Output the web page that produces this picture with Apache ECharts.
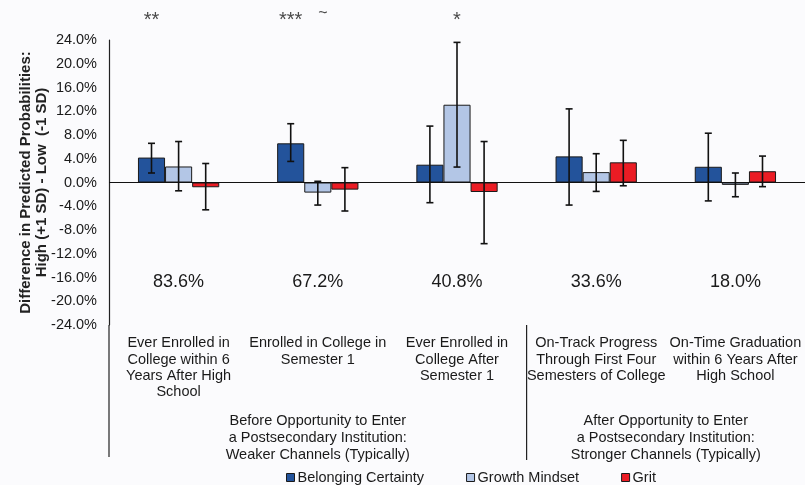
<!DOCTYPE html>
<html><head><meta charset="utf-8">
<script src="https://cdn.jsdelivr.net/npm/echarts@6/dist/echarts.min.js"></script>
<style>html,body{margin:0;padding:0;background:#fbfbfd}#c{width:805px;height:485px}</style>
</head><body><div id="c"></div>
<script>
const categories = [
  'Ever Enrolled in\nCollege within 6\nYears After High\nSchool',
  'Enrolled in College in\nSemester 1',
  'Ever Enrolled in\nCollege After\nSemester 1',
  'On-Track Progress\nThrough First Four\nSemesters of College',
  'On-Time Graduation\nwithin 6 Years After\nHigh School'
];
const seriesNames = ['Belonging Certainty', 'Growth Mindset', 'Grit'];
const belong = [4.2, 6.6, 3.0, 4.4, 2.65];
const growth = [2.7, -1.7, 13.1, 1.75, -0.4];
const grit = [-0.8, -1.2, -1.6, 3.4, 1.9];
const belongLo = [1.6, 3.55, -3.4, -3.8, -3.1];
const belongHi = [6.6, 9.9, 9.5, 12.4, 8.3];
const growthLo = [-1.4, -3.8, 2.6, -1.5, -2.4];
const growthHi = [6.9, 0.2, 23.6, 4.85, 1.6];
const gritLo = [-4.6, -4.8, -10.3, -0.55, -0.7];
const gritHi = [3.2, 2.5, 6.9, 7.1, 4.45];
const sigBelong = ['**', '***', '', '', ''];
const sigGrowth = ['', '~', '*', '', ''];
const sigGrit = ['', '', '', '', ''];
const rates = [83.6, 67.2, 40.8, 33.6, 18.0];
const rateLabelY = -16.7;
const groupLabels = [
  'Before Opportunity to Enter\na Postsecondary Institution:\nWeaker Channels (Typically)',
  'After Opportunity to Enter\na Postsecondary Institution:\nStronger Channels (Typically)'
];
const yTicks = {min: -24, max: 24, interval: 4};

const FONT = 'Liberation Sans, Arial, sans-serif';
const colors = ['#23539b', '#b3c6e6', '#eb1c24'];
const gapFrac = 0.416;

const chart = echarts.init(document.getElementById('c'), null, {renderer: 'canvas'});

function errSeries(si, lo, hi) {
  return {
    type: 'custom', name: seriesNames[si] + ' CI', silent: true, z: 5,
    encode: {x: 0, y: [1, 2]},
    data: lo.map((v, i) => [i, v, hi[i]]),
    renderItem: function (params, api) {
      const bw = api.size([1, 0])[0] * (1 - gapFrac) / 3;
      const cx = api.coord([api.value(0), 0])[0] + (si - 1) * bw;
      const yl = api.coord([api.value(0), api.value(1)])[1];
      const yh = api.coord([api.value(0), api.value(2)])[1];
      const cap = 3.5;
      const st = {stroke: '#111', lineWidth: 1.6};
      return {type: 'group', children: [
        {type: 'line', shape: {x1: cx, y1: yl, x2: cx, y2: yh}, style: st},
        {type: 'line', shape: {x1: cx - cap, y1: yl, x2: cx + cap, y2: yl}, style: st},
        {type: 'line', shape: {x1: cx - cap, y1: yh, x2: cx + cap, y2: yh}, style: st}
      ]};
    }
  };
}
function sigSeries(si, sig) {
  return {
    type: 'custom', name: seriesNames[si] + ' sig', silent: true, clip: false,
    encode: {x: 0, y: 1},
    data: sig.map((t, i) => [i, 0]),
    renderItem: function (params, api) {
      const bw = api.size([1, 0])[0] * (1 - gapFrac) / 3;
      const cx = api.coord([api.value(0), 0])[0] + (si - 1) * bw;
      const txt = sig[params.dataIndex];
      const isTilde = txt === '~';
      return {type: 'text', x: cx + (isTilde ? 5 : 0), y: params.coordSys.y - (isTilde ? 26 : 20),
        style: {text: txt, fill: '#4a4a4a', font: (isTilde ? '16px ' : '20px ') + FONT, align: 'center', verticalAlign: 'middle'}};
    }
  };
}
function rateSeries() {
  return {
    type: 'custom', name: 'rates', silent: true, clip: false,
    encode: {x: 0, y: 1},
    data: rates.map((r, i) => [i, rateLabelY]),
    renderItem: function (params, api) {
      const p = api.coord([api.value(0), api.value(1)]);
      return {type: 'text', x: p[0], y: p[1],
        style: {text: rates[params.dataIndex].toFixed(1) + '%', fill: '#1a1a1a', font: '18px ' + FONT,
          align: 'center', verticalAlign: 'middle'}};
    }
  };
}

function barSeries(si, vals) {
  const s = {
    type: 'bar', name: seriesNames[si], data: vals,
    barGap: '0%', barCategoryGap: (gapFrac * 100) + '%',
    itemStyle: {color: colors[si], borderColor: '#1a1a1a', borderWidth: 1}
  };
  if (si === 0) {
    s.markLine = {silent: true, symbol: 'none', label: {show: false},
      lineStyle: {color: '#111', width: 1.2, type: 'solid'}, data: [{yAxis: 0}]};
  }
  return s;
}

chart.setOption({
  backgroundColor: '#fbfbfd',
  animation: false,
  textStyle: {fontFamily: FONT},
  grid: {left: 109, top: 40, width: 706, height: 285, containLabel: false},
  legend: {
    data: seriesNames, left: 281, top: 465, itemWidth: 8, itemHeight: 8, itemGap: 42,
    icon: 'rect',
    itemStyle: {borderColor: '#1a1a1a', borderWidth: 1},
    textStyle: {fontSize: 14.5, color: '#1a1a1a', fontFamily: FONT, padding: [0, 0, 0, -2]}
  },
  xAxis: {
    type: 'category', data: categories, position: 'bottom',
    axisLine: {show: false, onZero: false}, axisTick: {show: false},
    axisLabel: {interval: 0, margin: 10, fontSize: 14.5, lineHeight: 16.4, color: '#1a1a1a', fontFamily: FONT, align: 'center'}
  },
  yAxis: {
    type: 'value', min: yTicks.min, max: yTicks.max, interval: yTicks.interval,
    name: 'Difference in Predicted Probabilities:\nHigh (+1 SD) - Low  (-1 SD)',
    nameLocation: 'middle', nameGap: 59, nameRotate: 90, nameMoveOverlap: false,
    nameTextStyle: {fontSize: 15, fontWeight: 'bold', color: '#222', lineHeight: 16, fontFamily: FONT},
    axisLine: {show: true, lineStyle: {color: '#222', width: 1.2}},
    axisTick: {show: false}, splitLine: {show: false},
    axisLabel: {fontSize: 14.5, color: '#1a1a1a', margin: 12, fontFamily: FONT,
      formatter: v => v.toFixed(1) + '%'}
  },
  series: [
    barSeries(0, belong), barSeries(1, growth), barSeries(2, grit),
    errSeries(0, belongLo, belongHi), errSeries(1, growthLo, growthHi), errSeries(2, gritLo, gritHi),
    sigSeries(0, sigBelong), sigSeries(1, sigGrowth), sigSeries(2, sigGrit),
    rateSeries()
  ]
});

// decorations placed from the chart's own scales
const c = i => chart.convertToPixel({xAxisIndex: 0}, i);
const gridBottom = chart.convertToPixel({yAxisIndex: 0}, yTicks.min);
const axisX = c(0) - (c(1) - c(0)) / 2;
const divX = (c(2) + c(3)) / 2;
chart.setOption({
  graphic: [
    {type: 'line', silent: true, shape: {x1: axisX, y1: gridBottom, x2: axisX, y2: gridBottom + 132},
      style: {stroke: '#222', lineWidth: 1.2}},
    {type: 'line', silent: true, shape: {x1: divX, y1: gridBottom, x2: divX, y2: gridBottom + 135},
      style: {stroke: '#222', lineWidth: 1.2}},
    {type: 'text', silent: true, x: c(1), y: gridBottom + 87,
      style: {text: groupLabels[0], font: '14.5px ' + FONT, fill: '#1a1a1a', align: 'center', lineHeight: 17}},
    {type: 'text', silent: true, x: (c(3) + c(4)) / 2, y: gridBottom + 87,
      style: {text: groupLabels[1], font: '14.5px ' + FONT, fill: '#1a1a1a', align: 'center', lineHeight: 17}}
  ]
});
</script></body></html>
